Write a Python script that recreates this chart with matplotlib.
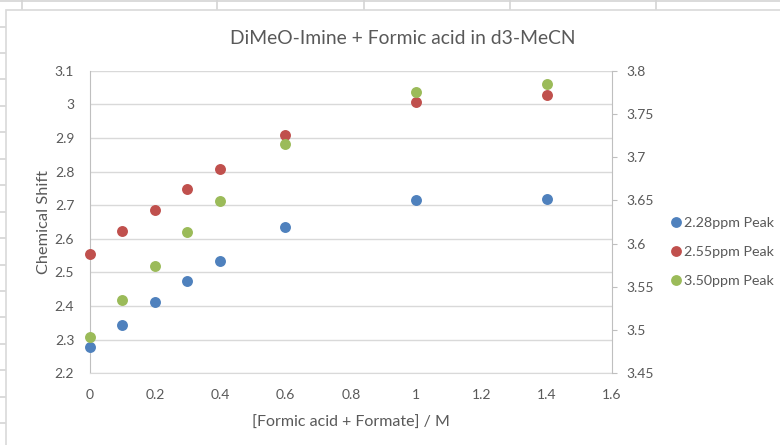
import matplotlib
matplotlib.use("Agg")
import matplotlib.pyplot as plt
from matplotlib.patches import Rectangle
from matplotlib.lines import Line2D

plt.rcParams['font.family'] = ['Lato', 'DejaVu Sans']

x_vals = [0, 0.1, 0.2, 0.3, 0.4, 0.6, 1.0, 1.4]
peak_228 = [2.279, 2.345, 2.413, 2.474, 2.533, 2.636, 2.714, 2.718]
peak_255 = [2.555, 2.623, 2.685, 2.749, 2.808, 2.910, 3.008, 3.029]
peak_350 = [3.492, 3.535, 3.5745, 3.613, 3.6496, 3.715, 3.7754, 3.7846]

series_labels = ['2.28ppm Peak', '2.55ppm Peak', '3.50ppm Peak']
colors = ['#4f81bd', '#c0504d', '#9bbb59']

left_ticks = [2.2, 2.3, 2.4, 2.5, 2.6, 2.7, 2.8, 2.9, 3.0, 3.1]
left_labels = ['2.2', '2.3', '2.4', '2.5', '2.6', '2.7', '2.8', '2.9', '3', '3.1']
right_ticks = [3.45, 3.5, 3.55, 3.6, 3.65, 3.7, 3.75, 3.8]
right_labels = ['3.45', '3.5', '3.55', '3.6', '3.65', '3.7', '3.75', '3.8']
x_ticks = [0, 0.2, 0.4, 0.6, 0.8, 1.0, 1.2, 1.4, 1.6]
x_labels = ['0', '0.2', '0.4', '0.6', '0.8', '1', '1.2', '1.4', '1.6']

W, H = 780, 445
fig = plt.figure(figsize=(W / 100, H / 100), dpi=100)
fig.patch.set_facecolor('white')

# spreadsheet background lines
cell_col = '#d4d4d4'
def fx(px):
    return px / W
def fy(py):
    return 1 - py / H
for xv in [22, 217, 364, 510, 656]:
    fig.add_artist(Line2D([fx(xv), fx(xv)], [fy(0), fy(9.5)], color=cell_col, lw=1.2, zorder=-3))
fig.add_artist(Line2D([0, 1], [fy(0.8), fy(0.8)], color=cell_col, lw=1.2, zorder=-3))
for k in range(17):
    yv = 26.5 + 26.45 * k
    if yv < H:
        fig.add_artist(Line2D([0, fx(6)], [fy(yv), fy(yv)], color=cell_col, lw=1.2, zorder=-3))
# chart frame
fig.add_artist(Rectangle((fx(6), -0.05), 1.1, fy(9.5) + 0.05, transform=fig.transFigure,
                         facecolor='white', edgecolor='#d9d9d9', lw=1.2, zorder=-2))

ax = fig.add_axes([89.5 / W, 1 - 373.3 / H, (612 - 89.5) / W, (373.3 - 70.7) / H])
ax.set_facecolor('none')
ax2 = ax.twinx()

txt = '#595959'
ax.set_xlim(0, 1.6)
ax.set_ylim(2.2, 3.1)
ax2.set_ylim(3.45, 3.8)

ax.set_yticks(left_ticks)
ax.set_yticklabels(left_labels)
ax.set_xticks(x_ticks)
ax.set_xticklabels(x_labels)
ax2.set_yticks(right_ticks)
ax2.set_yticklabels(right_labels)

ax.grid(axis='y', color='#d9d9d9', lw=1.0)
ax.set_axisbelow(True)

for a in (ax, ax2):
    for s in a.spines.values():
        s.set_visible(False)
ax.spines['left'].set_visible(True)
ax.spines['left'].set_color('#bfbfbf')
ax.spines['bottom'].set_visible(True)
ax.spines['bottom'].set_color('#d9d9d9')
ax2.spines['right'].set_visible(True)
ax2.spines['right'].set_color('#bfbfbf')

ax.tick_params(axis='y', length=0, pad=11, labelsize=10, labelcolor=txt)
ax.tick_params(axis='x', length=0, pad=11, labelsize=10, labelcolor=txt)
ax2.tick_params(axis='y', length=3.5, width=0.8, color='#bfbfbf', pad=7, labelsize=10, labelcolor=txt)

ms = 62
ax.scatter(x_vals, peak_228, s=ms, color=colors[0], zorder=3, clip_on=False, linewidths=0)
ax.scatter(x_vals, peak_255, s=ms, color=colors[1], zorder=3, clip_on=False, linewidths=0)
ax2.scatter(x_vals, peak_350, s=ms, color=colors[2], zorder=3, clip_on=False, linewidths=0)

ax.set_ylabel('Chemical Shift', fontsize=11.8, color=txt, labelpad=3)
ax.set_xlabel('[Formic acid + Formate] / M', fontsize=11.5, color=txt, labelpad=11)

fig.text(fx(403), fy(38), 'DiMeO-Imine + Formic acid in d3-MeCN', ha='center', va='center',
         fontsize=13.9, color=txt)

handles = [Line2D([], [], marker='o', linestyle='none', markersize=7.8, color=c, markeredgewidth=0)
           for c in colors]
fig.legend(handles, series_labels, loc='upper left', bbox_to_anchor=(fx(667), fy(217)),
           frameon=False, fontsize=10.3, labelcolor=txt, handletextpad=0.0,
           handlelength=1.2, labelspacing=1.2, borderaxespad=0, borderpad=0)

fig.savefig('out.png', dpi=100)
